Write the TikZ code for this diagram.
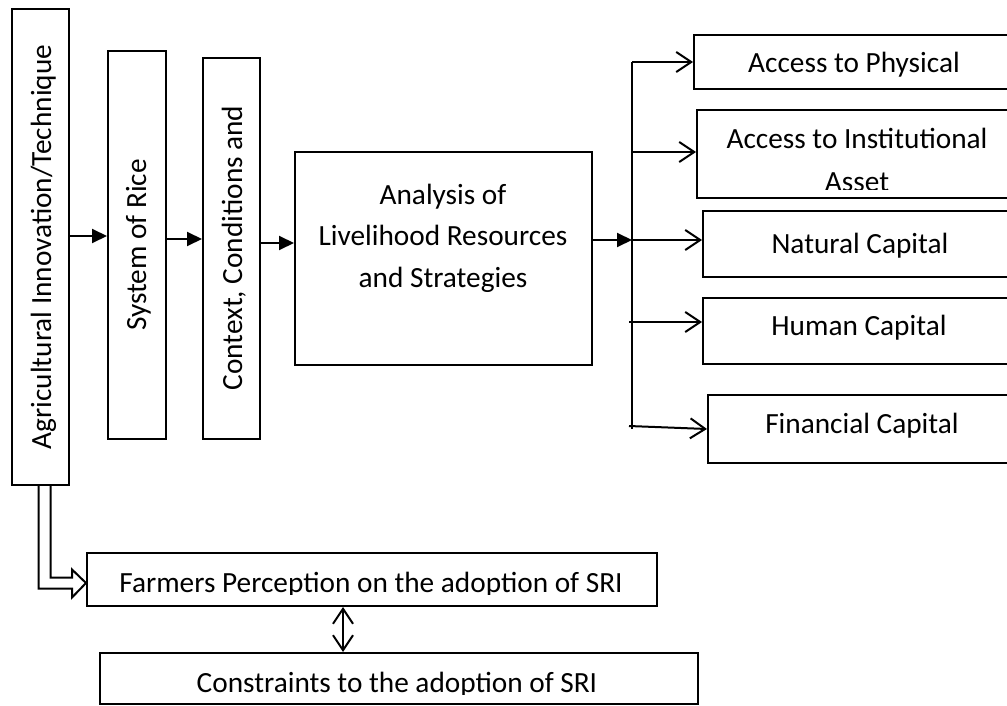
\documentclass[tikz,border=0pt]{standalone}
\usepackage{fontspec}
\setmainfont{Carlito}
\usetikzlibrary{arrows.meta,fit,positioning}

\begin{document}
\begin{tikzpicture}[x=1pt,y=1pt,
   bx/.style={draw,line width=2pt,inner sep=0pt},
   lbl/.style={anchor=base,inner sep=0pt,font=\fontsize{29.3}{41.5}\selectfont},
   vlbl/.style={lbl,rotate=90},
   farr/.style={line width=2pt,-{Triangle[length=15pt,width=14pt]}},
   oarr/.style={line width=2pt,-{Straight Barb[length=15pt,width=20pt]}}]
 \useasboundingbox (0,0) rectangle (1007,-706);

 %vertical boxes
 \node[bx,fit={(12,-9)(69,-485)}] (agri) {};
 \node[bx,fit={(108,-51)(166,-439)}] (sys) {};
 \node[bx,fit={(203,-58)(260,-439)}] (ctx) {};
 \node[bx,fit={(295,-152)(592,-365)}] (ana) {};
 %capitals on the right
 \node[bx,fit={(694,-35)(1030,-89)}] (phys) {};
 \node[bx,fit={(697,-110)(1030,-198)}] (inst) {};
 \node[bx,fit={(703,-211)(1030,-277)}] (nat) {};
 \node[bx,fit={(703,-298)(1030,-364)}] (hum) {};
 \node[bx,fit={(708,-395)(1030,-463)}] (fin) {};
 %perception and constraints
 \node[bx,fit={(87,-553)(657,-606)}] (farm) {};
 \node[bx,fit={(100,-653)(698,-704)}] (cons) {};

 \node[vlbl] (agriT) at (51,-247) {Agricultural Innovation/Technique};
 \node[vlbl] (sysT) at (146,-245) {System of Rice};
 \node[vlbl] (ctxT) at (242,-248) {Context, Conditions and};
 \node[lbl,align=center,anchor=center] (anaT) at (443,-238)
      {Analysis of\\Livelihood Resources\\and Strategies};

 \node[lbl] (physT) at (854,-73) {Access to Physical};
 %text cut by the box margins
 \begin{scope}
  \clip (inst.north west) rectangle (1007,-189.5);
  \node[lbl] (instT) at (857,-148.5) {Access to Institutional};
  \node[lbl] (instT2) at (857,-191.5) {Asset};
 \end{scope}
 \node[lbl] (natT) at (860,-253) {Natural Capital};
 \node[lbl] (humT) at (859,-335) {Human Capital};
 \node[lbl] (finT) at (862,-433) {Financial Capital};
 \begin{scope}
  \clip (farm.north west) rectangle (farm.east |- 0,-594);
  \node[lbl] (farmT) at (371,-592.5) {Farmers Perception on the adoption of SRI};
 \end{scope}
 \begin{scope}
  \clip (cons.north west) rectangle (cons.east |- 0,-694);
  \node[lbl] (consT) at (397,-692.5) {Constraints to the adoption of SRI};
 \end{scope}

 %main chain
 \draw[farr] ([yshift=11pt]agri.east) -- ([yshift=11pt]agri.east -| sys.west);
 \draw[farr] ([yshift=6pt]sys.east) -- ([yshift=6pt]sys.east -| ctx.west);
 \draw[farr] ([yshift=5.5pt]ctx.east) -- ([yshift=5.5pt]ctx.east -| ana.west);

 %trunk to the capitals
 \coordinate (tr) at (632,-62);
 \coordinate (trb) at (632,-429);
 \coordinate (brI) at (632,-152);
 \coordinate (brN) at (632,-240);
 \coordinate (brH) at (629,-322);
 \coordinate (brF) at (629,-426);
 \draw[line width=2pt] (tr) -- (trb);
 \draw[farr] (ana.east |- brN) -- (brN);
 \draw[oarr] (tr) -- (phys.west);
 \draw[oarr] (brI) -- (brI -| inst.west);
 \draw[oarr] (brN) -- (brN -| nat.west);
 \draw[oarr] (brH) -- (brH -| hum.west);
 \draw[oarr] (brF) -- (fin.west);

 %hollow double arrow down to perception
 \coordinate (ds) at ([xshift=4pt]agri.south);
 \coordinate (de) at ([yshift=-3.5pt]farm.west);
 \draw[line width=2pt,line join=miter]
      ([xshift=-6pt]ds) |- ([xshift=-14pt,yshift=-5.5pt]de) -- ++(0,-9)
      -- (de) -- ([xshift=-14pt,yshift=13.5pt]de) -- ++(0,-8)
      -| ([xshift=6pt]ds);
 \draw[line width=2pt,>={Straight Barb[length=15pt,width=20pt]},<->]
      ([xshift=-29pt]farm.south) -- ([xshift=-29pt]farm.south |- cons.north);
\end{tikzpicture}
\end{document}
